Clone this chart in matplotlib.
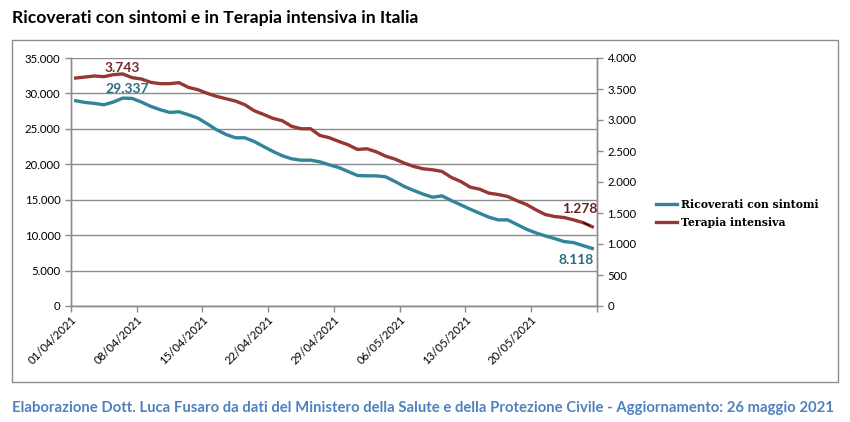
import matplotlib.pyplot as plt
from matplotlib.patches import Rectangle
from matplotlib.ticker import FuncFormatter

plt.rcParams['font.family'] = ['Lato', 'DejaVu Sans']

date_labels = ["01/04/2021", "08/04/2021", "15/04/2021", "22/04/2021",
               "29/04/2021", "06/05/2021", "13/05/2021", "20/05/2021", ""]

ricoverati = [
    28965, 28730, 28590, 28400, 28780, 29337, 29300, 28780, 28170, 27700,
    27320, 27410, 26990, 26520, 25720, 24870, 24210, 23740, 23740, 23220,
    22510, 21810, 21200, 20770, 20580, 20580, 20350, 19920, 19550, 18980,
    18420, 18370, 18370, 18230, 17570, 16860, 16300, 15780, 15350, 15540,
    14880, 14270, 13660, 13090, 12530, 12150, 12150, 11490, 10830, 10310,
    9890, 9510, 9090, 8950, 8530, 8118,
]

terapia = [
    3677, 3693, 3710, 3699, 3731, 3743, 3683, 3661, 3607, 3586,
    3586, 3602, 3526, 3489, 3430, 3381, 3343, 3306, 3247, 3150,
    3090, 3026, 2988, 2897, 2859, 2859, 2751, 2714, 2655, 2600,
    2525, 2536, 2487, 2417, 2369, 2304, 2250, 2213, 2197, 2170,
    2073, 2008, 1917, 1884, 1820, 1798, 1766, 1696, 1637, 1551,
    1475, 1443, 1427, 1389, 1346, 1278,
]

blue = "#31849B"
red = "#953735"
grid_c = "#8C8C8C"

def thousands(v, pos):
    return f"{int(v):,}".replace(",", ".")

fig = plt.figure(figsize=(8.5, 4.22), dpi=100)
ax = fig.add_axes([71/850, 1-306/422, (597-71)/850, (306-58)/422])
ax2 = ax.twinx()

x = list(range(len(ricoverati)))
l1, = ax.plot(x, ricoverati, color=blue, lw=2.4, label="Ricoverati con sintomi",
              solid_joinstyle='round')
l2, = ax2.plot(x, terapia, color=red, lw=2.4, label="Terapia intensiva",
               solid_joinstyle='round')

ax.set_xlim(-0.5, len(x) - 0.5)
ax.set_ylim(0, 35000)
ax2.set_ylim(0, 4000)
ax.set_yticks(range(0, 35001, 5000))
ax2.set_yticks(range(0, 4001, 500))
ax.yaxis.set_major_formatter(FuncFormatter(thousands))
ax2.yaxis.set_major_formatter(FuncFormatter(thousands))

ax.set_xticks([-0.5 + 7 * k for k in range(9)])
ax.set_xticklabels(date_labels, rotation=45, ha='right', rotation_mode='anchor')

ax.grid(axis='y', color=grid_c, lw=1)
ax.set_axisbelow(True)
for a in (ax, ax2):
    a.spines['top'].set_visible(False)
    for s in ('left', 'right', 'bottom'):
        a.spines[s].set_color(grid_c)
        a.spines[s].set_linewidth(1)
    a.tick_params(colors=grid_c, labelcolor='black', labelsize=8.2, length=4, width=1)
ax.tick_params(axis='x', pad=2)

# data labels
ax2.annotate("3.743", (5, 3743), xytext=(0, 0), textcoords='offset points',
             ha='center', va='bottom', color="#7A2A28", fontsize=10, fontweight='bold')
ax.annotate("29.337", (5.5, 29337), xytext=(0, 2), textcoords='offset points',
            ha='center', va='bottom', color="#2B6C7E", fontsize=10, fontweight='bold')
ax2.annotate("1.278", (55, 1278), xytext=(-9, 13), textcoords='offset points',
             ha='center', va='center', color="#632523", fontsize=10, fontweight='bold')
ax2.annotate("", (55, 1278), xytext=(53.8, 1360),
             arrowprops=dict(arrowstyle='-', color='black', lw=0.8))
ax.annotate("8.118", (55, 8118), xytext=(-12, -8), textcoords='offset points',
            ha='center', va='center', color="#2B6C7E", fontsize=10, fontweight='bold')

fig.legend(handles=[l1, l2], loc='upper left', bbox_to_anchor=(646/850, 1-189/422),
           frameon=False, handlelength=2.0, handletextpad=0.3, labelspacing=0.65,
           prop={'family': 'DejaVu Serif', 'weight': 'bold', 'size': 7.8})

# outer frame
fig.patches.append(Rectangle((12/850, 1-382/422), 826/850, 342/422, transform=fig.transFigure,
                             fill=False, edgecolor=grid_c, lw=1))

fig.text(12/850, 1-18/422, "Ricoverati con sintomi e in Terapia intensiva in Italia",
         ha='left', va='center', fontsize=12.6, fontweight='bold')
fig.text(12/850, 1-408/422,
         "Elaborazione Dott. Luca Fusaro da dati del Ministero della Salute e della Protezione Civile - Aggiornamento: 26 maggio 2021",
         ha='left', va='center', fontsize=10.7, fontweight='bold', color="#4F81BD")

fig.savefig("out.png", dpi=100)
